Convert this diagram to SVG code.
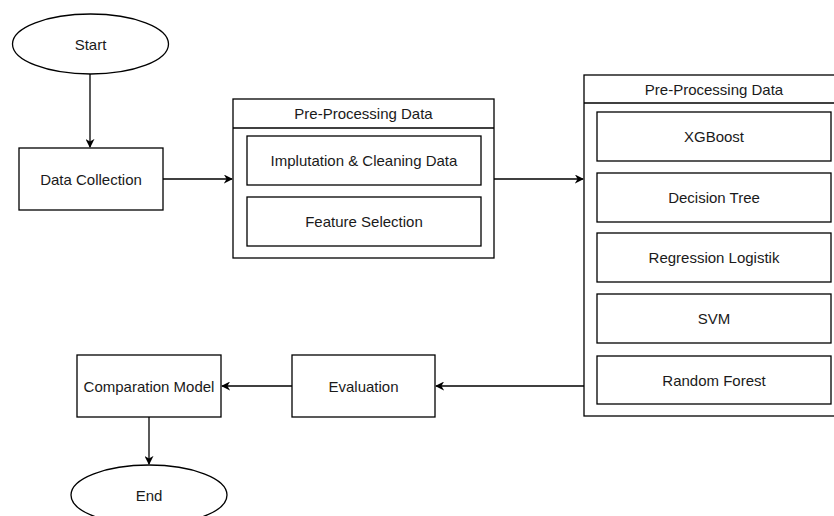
<svg xmlns="http://www.w3.org/2000/svg" width="834" height="516" viewBox="0 0 834 516">
<style>
.b{fill:#fff;stroke:#000;stroke-width:1.3}
.t{font-family:"Liberation Sans",Arial,sans-serif;font-size:15px;fill:#1a1a1a;text-anchor:middle;dominant-baseline:central}
.c{fill:none;stroke:#000;stroke-width:1.3}
</style>
<defs>
<marker id="a" viewBox="0 0 10 10" refX="9" refY="5" markerWidth="9" markerHeight="9" markerUnits="userSpaceOnUse" orient="auto">
<path d="M0,0 L10,5 L0,10 L3,5 Z" fill="#000"/>
</marker>
</defs>
<rect width="834" height="516" fill="#fff"/>
<g id="connectors">
<line class="c" x1="90" y1="74" x2="90" y2="147" marker-end="url(#a)"/>
<line class="c" x1="163" y1="179" x2="232" y2="179" marker-end="url(#a)"/>
<line class="c" x1="494" y1="179" x2="583" y2="179" marker-end="url(#a)"/>
<line class="c" x1="584" y1="386" x2="436" y2="386" marker-end="url(#a)"/>
<line class="c" x1="292" y1="386" x2="222" y2="386" marker-end="url(#a)"/>
<line class="c" x1="149" y1="417" x2="149" y2="464" marker-end="url(#a)"/>
</g>
<g id="start">
<ellipse class="b" cx="90.5" cy="44" rx="78" ry="30"/>
<text class="t" x="90.5" y="44">Start</text>
</g>
<g id="data-collection">
<rect class="b" x="19" y="148" width="144" height="62"/>
<text class="t" x="91" y="179">Data Collection</text>
</g>
<g id="preprocessing-1">
<rect class="b" x="233" y="99" width="261" height="159"/>
<line class="c" x1="233" y1="128" x2="494" y2="128"/>
<text class="t" x="363.5" y="113.5">Pre-Processing Data</text>
</g>
<g id="imputation">
<rect class="b" x="247" y="136" width="234" height="49"/>
<text class="t" x="364" y="160.5">Implutation &amp; Cleaning Data</text>
</g>
<g id="feature-selection">
<rect class="b" x="247" y="197" width="234" height="49"/>
<text class="t" x="364" y="221.5">Feature Selection</text>
</g>
<g id="preprocessing-2">
<rect class="b" x="584" y="75" width="261" height="341"/>
<line class="c" x1="584" y1="103" x2="845" y2="103"/>
<text class="t" x="714" y="89">Pre-Processing Data</text>
</g>
<g id="xgboost">
<rect class="b" x="597" y="112" width="234" height="49"/>
<text class="t" x="714" y="136.5">XGBoost</text>
</g>
<g id="decision-tree">
<rect class="b" x="597" y="173" width="234" height="49"/>
<text class="t" x="714" y="197.5">Decision Tree</text>
</g>
<g id="regression">
<rect class="b" x="597" y="233" width="234" height="49"/>
<text class="t" x="714" y="257.5">Regression Logistik</text>
</g>
<g id="svm">
<rect class="b" x="597" y="294" width="234" height="49"/>
<text class="t" x="714" y="318.5">SVM</text>
</g>
<g id="random-forest">
<rect class="b" x="597" y="356" width="234" height="48"/>
<text class="t" x="714" y="380">Random Forest</text>
</g>
<g id="evaluation">
<rect class="b" x="292" y="355" width="143" height="62"/>
<text class="t" x="363.5" y="386">Evaluation</text>
</g>
<g id="comparation">
<rect class="b" x="77" y="355" width="144" height="62"/>
<text class="t" x="149" y="386">Comparation Model</text>
</g>
<g id="end">
<ellipse class="b" cx="149" cy="495" rx="78" ry="30"/>
<text class="t" x="149" y="495">End</text>
</g>
</svg>
